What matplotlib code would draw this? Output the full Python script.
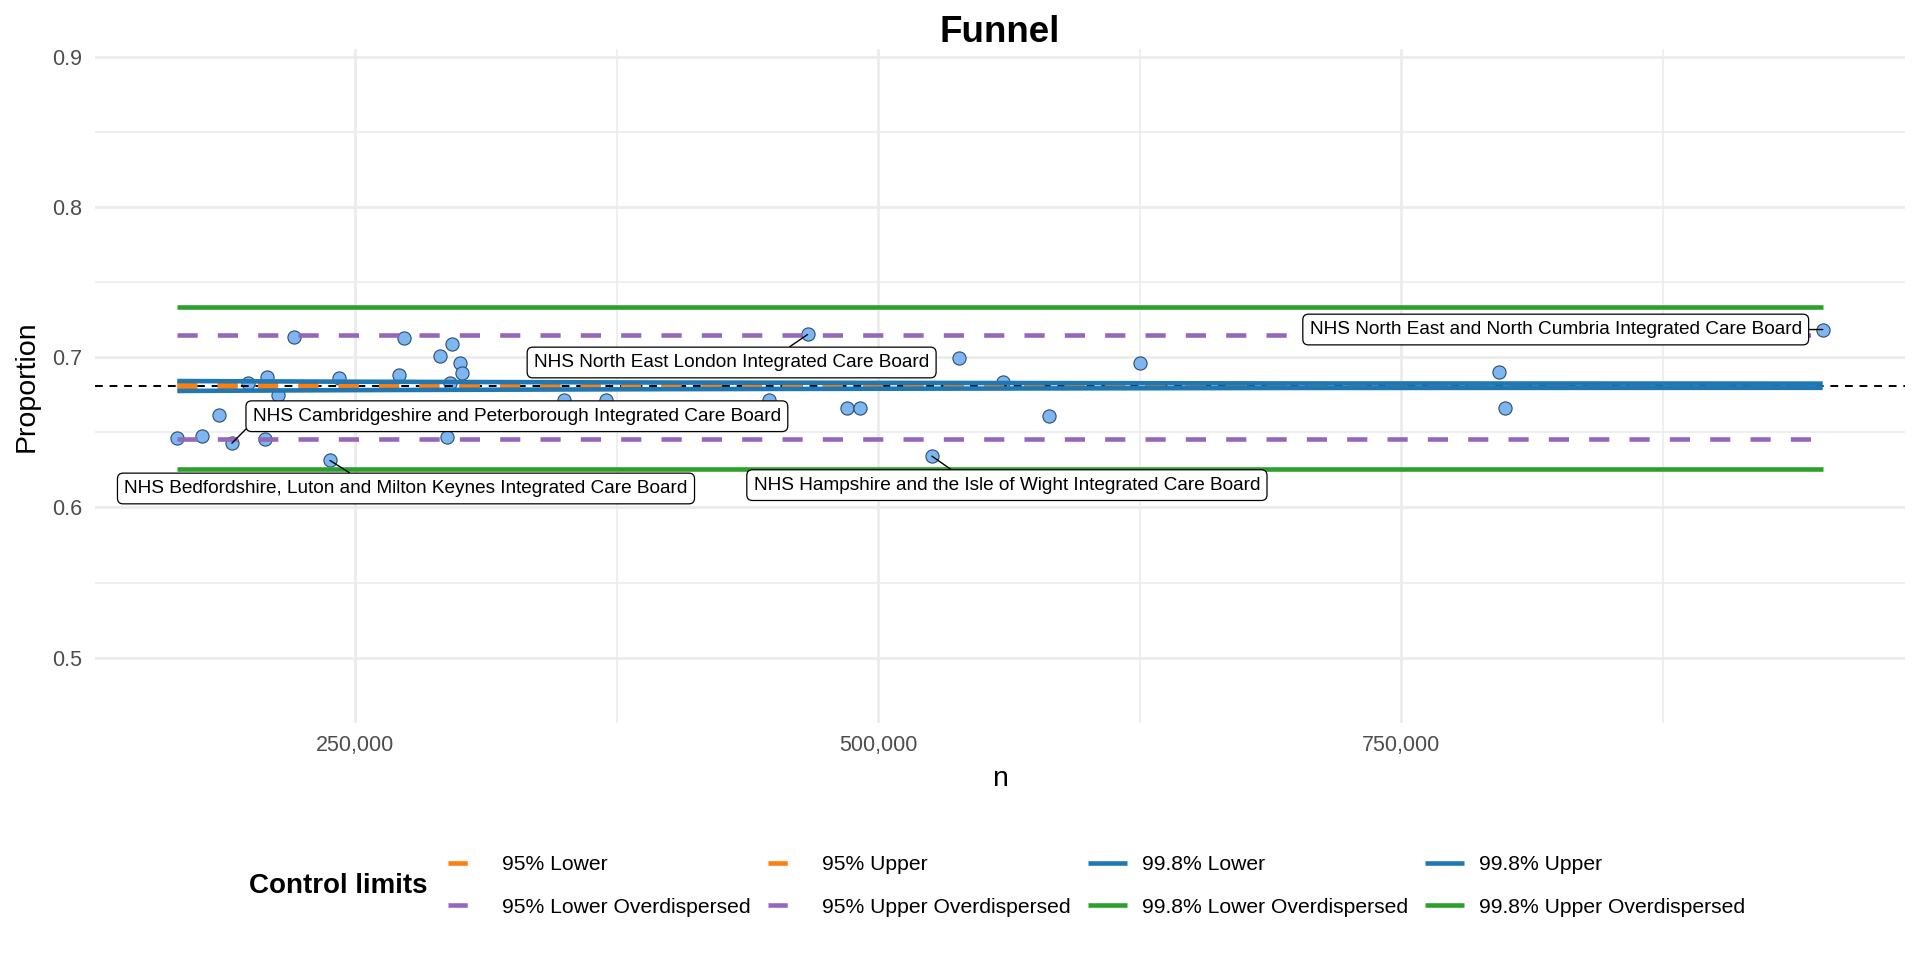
import matplotlib
matplotlib.use("Agg")
import matplotlib.pyplot as plt
from matplotlib.lines import Line2D
from matplotlib.ticker import FuncFormatter, MultipleLocator

plt.rcParams['font.family'] = ['Liberation Sans', 'DejaVu Sans']

icb_n = [165000, 176800, 184900, 191100, 199000, 207100, 208100, 213100, 220800, 238000,
         242300, 270900, 273300, 290800, 293700, 296100, 295500, 299900, 301200, 350000,
         369700, 447700, 466300, 484900, 491500, 525700, 538600, 559900, 581900, 625400,
         796900, 799700, 951500]
icb_prop = [0.6461, 0.6474, 0.6613, 0.6428, 0.6828, 0.6457, 0.6872, 0.6750, 0.7135, 0.6313,
            0.6861, 0.6883, 0.7128, 0.7011, 0.6468, 0.7086, 0.6832, 0.6960, 0.6894, 0.6715,
            0.6715, 0.6715, 0.7152, 0.6662, 0.6662, 0.6342, 0.6993, 0.6838, 0.6607, 0.6960,
            0.6901, 0.6662, 0.7185]

# labelled (outlying) ICBs: n -> name
label_names = {
    191100: "NHS Cambridgeshire and Peterborough Integrated Care Board",
    238000: "NHS Bedfordshire, Luton and Milton Keynes Integrated Care Board",
    466300: "NHS North East London Integrated Care Board",
    525700: "NHS Hampshire and the Isle of Wight Integrated Care Board",
    951500: "NHS North East and North Cumbria Integrated Care Board",
}

centre_line = 0.6810

# control limits at a few n values
limit_n = [165000, 240000, 400000, 700000, 951500]
lim95_lower = [0.6798, 0.6800, 0.6803, 0.6807, 0.6808]
lim95_upper = [0.6825, 0.6822, 0.6818, 0.6813, 0.6812]
lim998_lower = [0.6776, 0.6781, 0.6788, 0.6796, 0.6797]
lim998_upper = [0.6842, 0.6838, 0.6832, 0.6826, 0.6825]
lim95_lower_od = [0.6457, 0.6457, 0.6457, 0.6457, 0.6457]
lim95_upper_od = [0.7146, 0.7146, 0.7146, 0.7146, 0.7146]
lim998_lower_od = [0.6257, 0.6257, 0.6257, 0.6257, 0.6257]
lim998_upper_od = [0.7338, 0.7338, 0.7338, 0.7338, 0.7338]

# label placement: (dx, dy) offset in pixels from the point, and where the segment leaves the box
label_layout = {
    191100: ((285, 27), (0.0, 0.15)),
    238000: ((76, -28), (0.42, 1.0)),
    466300: ((-76, -28), (0.62, 1.0)),
    525700: ((75, -29), (0.41, 1.0)),
    951500: ((-267, 0), (1.0, 0.5)),
}

ORANGE, BLUE, PURPLE, GREEN = "#FF7F0E", "#1F77B4", "#9467BD", "#2CA02C"
W, H = 1920, 960

fig = plt.figure(figsize=(19.2, 9.6), dpi=100)
ax = fig.add_axes([95 / W, 1 - 723 / H, (1905 - 95) / W, (723 - 49) / H])

ax.scatter(icb_n, icb_prop, s=90, c="#7DB6F0", edgecolors="#2B4C6F", linewidths=0.8, zorder=2.5)
ax.axhline(centre_line, color="black", lw=1.4, dashes=(4, 3.5), zorder=2.8)

lw = 3.3
dash = (4.4, 4.4)
limits = [
    ("95% Lower", lim95_lower, ORANGE, True),
    ("95% Upper", lim95_upper, ORANGE, True),
    ("99.8% Lower", lim998_lower, BLUE, False),
    ("99.8% Upper", lim998_upper, BLUE, False),
    ("95% Lower Overdispersed", lim95_lower_od, PURPLE, True),
    ("95% Upper Overdispersed", lim95_upper_od, PURPLE, True),
    ("99.8% Lower Overdispersed", lim998_lower_od, GREEN, False),
    ("99.8% Upper Overdispersed", lim998_upper_od, GREEN, False),
]
handles = {}
for name, vals, col, dashed in limits:
    if dashed:
        ax.plot(limit_n, vals, color=col, lw=lw, dashes=dash, dash_capstyle="butt", zorder=3)
        # legend key shows just the first dash
        handles[name] = Line2D([], [], color=col, lw=lw, dashes=(4.2, 40), dash_capstyle="butt")
    else:
        ax.plot(limit_n, vals, color=col, lw=lw, solid_capstyle="butt", zorder=3)
        handles[name] = Line2D([], [], color=col, lw=lw, solid_capstyle="butt")

# labels with boxes and leader segments
for n_val, text in label_names.items():
    idx = icb_n.index(n_val)
    (dx, dy), rel = label_layout[n_val]
    ax.annotate(text, xy=(icb_n[idx], icb_prop[idx]), xytext=(dx, dy), textcoords="offset pixels",
                ha="center", va="center", fontsize=13.7, zorder=6,
                bbox=dict(boxstyle="round,pad=0.36,rounding_size=0.3", fc="white", ec="black", lw=0.9),
                arrowprops=dict(arrowstyle="-", color="black", lw=1.0, shrinkA=0, shrinkB=0, relpos=rel))

# axes styling
x_pad = 0.05 * (max(icb_n) - min(icb_n))
ax.set_xlim(min(icb_n) - x_pad, max(icb_n) + x_pad)
ax.set_ylim(0.4565, 0.9053)
ax.xaxis.set_major_locator(MultipleLocator(250000))
ax.xaxis.set_minor_locator(MultipleLocator(125000))
ax.yaxis.set_major_locator(MultipleLocator(0.1))
ax.yaxis.set_minor_locator(MultipleLocator(0.05))
ax.xaxis.set_major_formatter(FuncFormatter(lambda v, p: f"{v:,.0f}"))
ax.yaxis.set_major_formatter(FuncFormatter(lambda v, p: f"{v:.1f}"))
ax.grid(which="major", color="#EBEBEB", lw=1.9)
ax.grid(which="minor", color="#EBEBEB", lw=1.1)
ax.set_axisbelow(True)
for s in ax.spines.values():
    s.set_visible(False)
ax.tick_params(which="both", length=0, labelsize=15.5, labelcolor="#4D4D4D")
ax.tick_params(axis="x", pad=9)
ax.tick_params(axis="y", pad=9)

fig.text(1000 / W, 1 - 33 / H, "Funnel", ha="center", va="center", fontsize=26.5, fontweight="bold")
fig.text(1000 / W, 1 - 779 / H, "n", ha="center", va="center", fontsize=20.5)
fig.text(27 / W, 1 - 386 / H, "Proportion", ha="center", va="center", fontsize=20.5, rotation=90)

# legend: 2 rows x 4 columns, filled row-wise
order = ["95% Lower", "95% Lower Overdispersed", "95% Upper", "95% Upper Overdispersed",
         "99.8% Lower", "99.8% Lower Overdispersed", "99.8% Upper", "99.8% Upper Overdispersed"]
fig.legend([handles[k] for k in order], order, loc="center left",
           bbox_to_anchor=(448 / W, 1 - 886 / H), ncol=4, frameon=False, fontsize=15.2,
           handlelength=1.85, handletextpad=0.72, columnspacing=0.8, labelspacing=1.12,
           borderpad=0, borderaxespad=0)
fig.text(249 / W, 1 - 886 / H, "Control limits", ha="left", va="center", fontsize=20, fontweight="bold")

fig.savefig("out.png", dpi=100)
